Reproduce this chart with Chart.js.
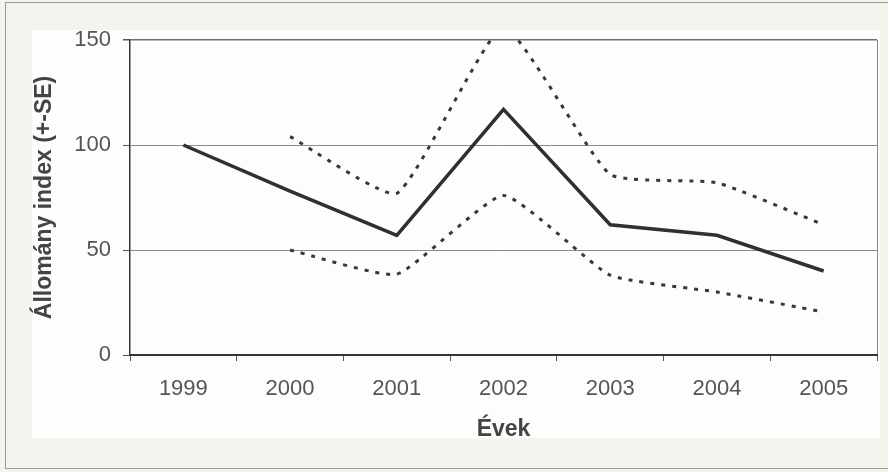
<!DOCTYPE html>
<html>
<head>
<meta charset="utf-8">
<script src="https://cdn.jsdelivr.net/npm/chart.js@4/dist/chart.umd.min.js"></script>
<style>
  html, body { margin: 0; padding: 0; background: #f4f4ee; }
  #wrap { position: relative; width: 888px; height: 472px; overflow: hidden; }
  #frame { position: absolute; left: 5px; top: 2px; width: 884px; height: 467px;
           border: 1px solid #9a9a96; box-sizing: border-box; }
  #panel { position: absolute; left: 32px; top: 30px; width: 848px; height: 408px; background: #fdfdfc; }
  #c { position: absolute; left: 0; top: 0; }
</style>
</head>
<body>
<div id="wrap">
  <div id="frame"></div>
  <div id="panel"></div>
  <canvas id="c" width="888" height="472"></canvas>
</div>
<script>
// Állomány index by year, with the +SE / -SE bounds
const years = ['1999', '2000', '2001', '2002', '2003', '2004', '2005'];
const indexValues = [100, 78, 57, 117, 62, 57, 40];
const upperSE = [null, 104, 77, 156, 86, 82, 62];
const lowerSE = [null, 50, 38.5, 76, 38, 30, 20.5];
const yTicks = [0, 50, 100, 150];

const tickFont = { family: '"Liberation Sans", Arial, sans-serif', size: 22 };
const titleFont = { family: '"Liberation Sans", Arial, sans-serif', size: 23, weight: 'bold', lineHeight: 1.2 };

const seStyle = {
  borderColor: '#383838',
  borderWidth: 3,
  borderDash: [4, 7],
  borderCapStyle: 'butt',
  pointRadius: 0,
  tension: 0.15,
  fill: false,
  clip: 1
};

new Chart(document.getElementById('c'), {
  type: 'line',
  data: {
    labels: years,
    datasets: [
      Object.assign({ label: '+SE', data: upperSE }, seStyle),
      Object.assign({ label: '-SE', data: lowerSE }, seStyle),
      {
        label: 'Állomány index',
        data: indexValues,
        borderColor: '#303030',
        borderWidth: 3.5,
        pointRadius: 0,
        tension: 0,
        fill: false
      }
    ]
  },
  options: {
    responsive: false,
    animation: false,
    layout: { padding: { top: 40, right: 11, left: 0, bottom: 0 } },
    plugins: { legend: { display: false }, tooltip: { enabled: false } },
    scales: {
      x: {
        type: 'category',
        offset: true,
        afterFit: s => { s.height = 117; },
        grid: {
          offset: true,
          drawOnChartArea: true,
          color: ctx => ctx.type === 'tick' ? 'rgba(0,0,0,0)' : '#8a8a8a',
          tickColor: '#555',
          tickLength: 6,
          lineWidth: 1
        },
        border: { display: true, color: '#333', width: 2 },
        ticks: { font: tickFont, color: '#555', padding: 15, maxRotation: 0 },
        title: { display: true, text: 'Évek', font: titleFont, color: '#444', padding: { top: 0, bottom: 29 } }
      },
      y: {
        min: 0,
        max: 150,
        afterFit: s => { s.width = 130; },
        afterBuildTicks: s => { s.ticks = yTicks.map(v => ({ value: v })); },
        grid: {
          color: ctx => ctx.tick && ctx.tick.value === 150 ? '#6e6e6e' : '#8c8c8c',
          lineWidth: ctx => ctx.tick && ctx.tick.value === 150 ? 1.5 : 1,
          tickColor: '#555',
          tickLength: 7
        },
        border: { display: true, color: '#333', width: 1.5 },
        ticks: { font: tickFont, color: '#555', padding: 12 },
        title: { display: true, text: 'Állomány index (+-SE)', font: titleFont, color: '#444', padding: { top: 31, bottom: 0 } }
      }
    }
  }
});
</script>
</body>
</html>
